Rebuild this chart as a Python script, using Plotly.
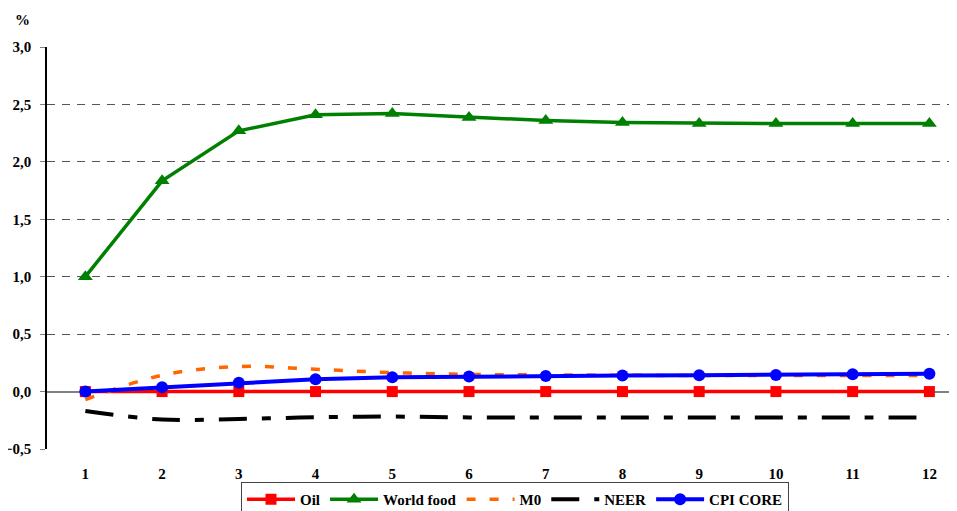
import plotly.graph_objects as go

months = [1, 2, 3, 4, 5, 6, 7, 8, 9, 10, 11, 12]
month_labels = ["1", "2", "3", "4", "5", "6", "7", "8", "9", "10", "11", "12"]
oil = [0, 0, 0, 0, 0, 0, 0, 0, 0, 0, 0, 0]
world_food = [1.0, 1.835, 2.27, 2.41, 2.42, 2.387, 2.36, 2.343, 2.335, 2.333, 2.335, 2.335]
m0 = [-0.07, 0.142, 0.218, 0.194, 0.165, 0.15, 0.145, 0.142, 0.14, 0.14, 0.14, 0.14]
neer = [-0.17, -0.244, -0.238, -0.224, -0.218, -0.225, -0.225, -0.225, -0.225, -0.225, -0.225, -0.225]
cpi_core = [0.0, 0.037, 0.076, 0.107, 0.125, 0.132, 0.136, 0.139, 0.142, 0.145, 0.15, 0.155]

FONT = "Liberation Serif"
OFF = 8  # page body margin
W, H = 957 - OFF, 511 - OFF
L, T, B = 47 - OFF, 47 - OFF, 62
PW, PH = W - L, H - T - B
XR = [0.5, 12.36]

fig = go.Figure()
fig.add_trace(go.Scatter(x=months, y=oil, name="<b>Oil</b>", mode="lines+markers",
                         line=dict(color="#ff0000", width=3.5),
                         marker=dict(symbol="square", size=11, color="#ff0000")))
fig.add_trace(go.Scatter(x=months, y=world_food, name="<b>World food</b>", mode="lines+markers",
                         line=dict(color="#008000", width=3.5),
                         marker=dict(symbol="triangle-up", size=13, color="#008000")))
fig.add_trace(go.Scatter(x=months, y=m0, name="<b>M0</b>", mode="lines",
                         line=dict(color="#ff6600", width=3.5, dash="9px,14px", shape="spline")))
fig.add_trace(go.Scatter(x=months, y=neer, name="<b>NEER</b>", mode="lines",
                         line=dict(color="#000000", width=4, dash="28px,15px,9px,15px", shape="spline")))
fig.add_trace(go.Scatter(x=months, y=cpi_core, name="<b>CPI CORE</b>", mode="lines+markers",
                         line=dict(color="#0000ff", width=4),
                         marker=dict(symbol="circle", size=12, color="#0000ff")))

fig.update_layout(
    width=W, height=H,
    margin=dict(l=L, r=0, t=T, b=B, autoexpand=False),
    paper_bgcolor="white", plot_bgcolor="white",
    separators=",.",
    font=dict(family=FONT, size=15, color="black"),
    showlegend=True,
    legend=dict(orientation="h", x=(515 - 47) / PW, xanchor="center",
                y=-(482 - 449) / PH, yanchor="top",
                bordercolor="#444444", borderwidth=1, bgcolor="white",
                font=dict(family=FONT, size=15, color="black"),
                itemwidth=48, tracegroupgap=0),
    xaxis=dict(range=XR, tickvals=months, ticktext=month_labels, automargin=False,
               showline=False, ticks="", showgrid=False, zeroline=False,
               ticklabelstandoff=14,
               tickfont=dict(family=FONT, size=15, color="black", weight="bold")),
    xaxis2=dict(range=XR, overlaying="x", anchor="free", position=0.5 / 3.5,
                automargin=False, showline=False, showgrid=False, zeroline=False,
                tickvals=[m + 0.5 for m in months[:-1]], ticks="outside", ticklen=5,
                tickcolor="#808080", tickwidth=1, showticklabels=False),
    yaxis=dict(range=[-0.5, 3.0], dtick=0.5, tick0=0, tickformat=".1f", automargin=False,
               showline=True, linecolor="black", linewidth=1.5,
               ticks="outside", ticklen=5, tickcolor="#808080",
               showgrid=True, gridcolor="#555555", griddash="8px,7px", gridwidth=1,
               zeroline=True, zerolinecolor="#808080", zerolinewidth=2,
               ticklabelstandoff=6,
               tickfont=dict(family=FONT, size=15, color="black", weight="bold")),
    annotations=[dict(text="<b>%</b>", x=(22 - 47) / PW, y=1 + (47 - 20) / PH,
                      xref="paper", yref="paper", xanchor="center", yanchor="middle",
                      showarrow=False, font=dict(family=FONT, size=15, color="black"))],
)

fig.write_html("out.html")
